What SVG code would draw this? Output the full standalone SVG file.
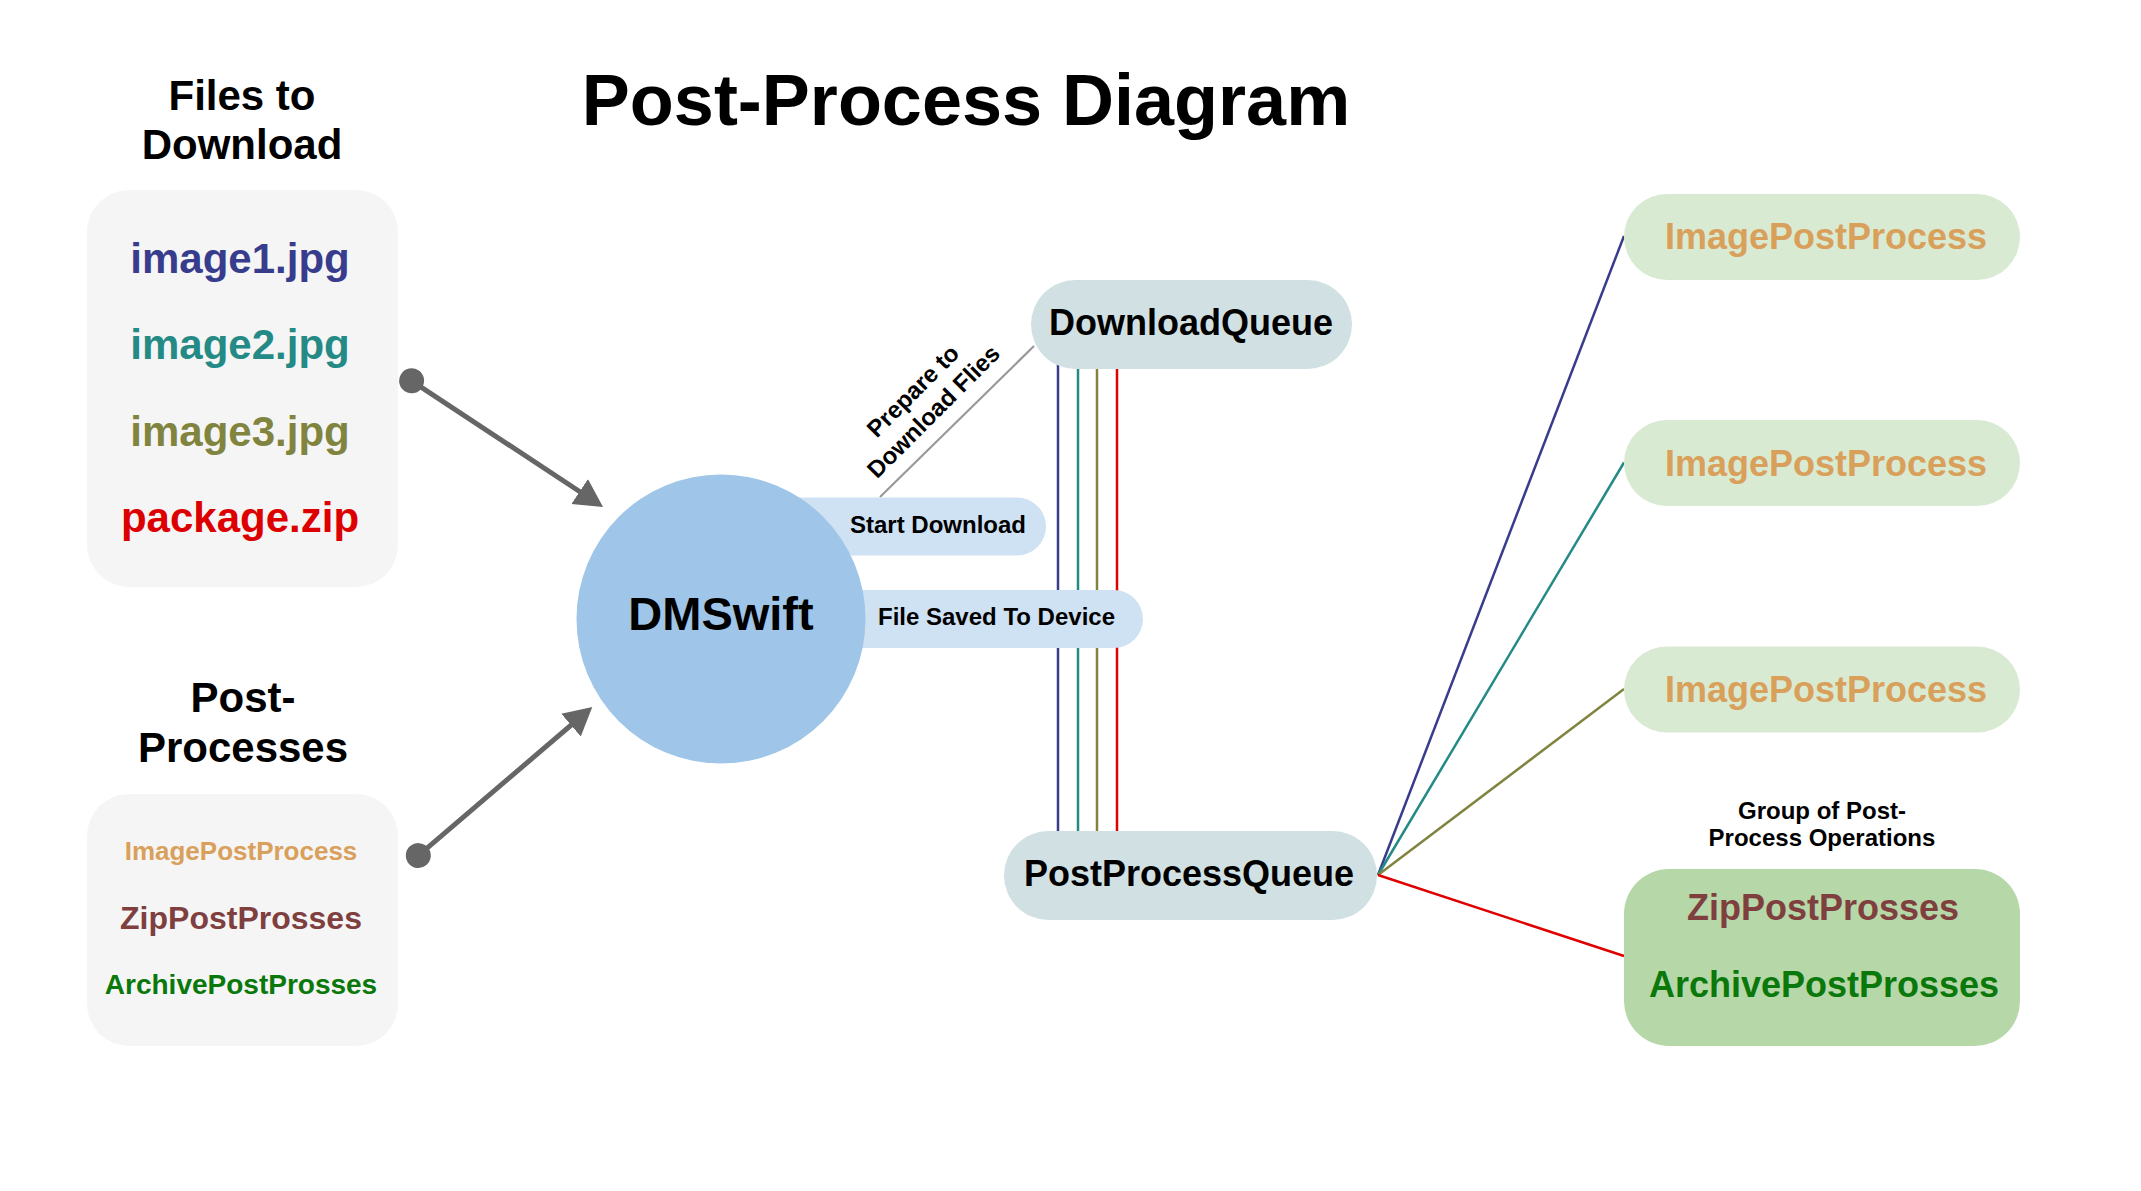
<svg xmlns="http://www.w3.org/2000/svg" width="2141" height="1191" viewBox="0 0 2141 1191">
<style>
text{font-family:"Liberation Sans",Arial,Helvetica,sans-serif;font-weight:bold;}
.c{text-anchor:middle;}
.box{fill:#f5f5f5;}
.queue{fill:#d0e0e3;}
.pill{fill:#cfe2f3;}
.ipp{fill:#d9ead3;}
.grp{fill:#b6d7a8;}
.blue{stroke:#383c8c;}
.teal{stroke:#248a85;}
.olive{stroke:#80843f;}
.red{stroke:#e00000;}
.vl{stroke-width:2.5;fill:none;}
.arrow{stroke:#666;stroke-width:5;fill:none;marker-start:url(#dot);marker-end:url(#head);}
</style>
<defs>
<marker id="head" markerUnits="userSpaceOnUse" markerWidth="30" markerHeight="32" refX="18" refY="15" orient="auto" viewBox="0 0 30 30">
<path d="M0,0 L28,15 L0,30 z" fill="#666"/>
</marker>
<marker id="dot" markerUnits="userSpaceOnUse" markerWidth="26" markerHeight="26" refX="13" refY="13" orient="auto" viewBox="0 0 26 26">
<circle cx="13" cy="13" r="12.5" fill="#666"/>
</marker>
</defs>
<rect width="2141" height="1191" fill="#ffffff"/>

<g id="title">
<text class="c" x="966" y="125" font-size="72" fill="#000">Post-Process Diagram</text>
</g>

<g id="connectors">
<line class="arrow" x1="411.6" y1="380.8" x2="594.7" y2="501.5"/>
<line class="arrow" x1="418.3" y1="855.6" x2="584.7" y2="713.5"/>
<line x1="880" y1="497" x2="1034" y2="346" stroke="#999" stroke-width="2.2"/>
<line class="vl blue" x1="1058" y1="330" x2="1058" y2="870"/>
<line class="vl teal" x1="1078" y1="330" x2="1078" y2="870"/>
<line class="vl olive" x1="1097" y1="330" x2="1097" y2="870"/>
<line class="vl red" x1="1117" y1="330" x2="1117" y2="870"/>
<line class="vl blue" x1="1378" y1="875" x2="1624" y2="236"/>
<line class="vl teal" x1="1378" y1="875" x2="1624" y2="462.5"/>
<line class="vl olive" x1="1378" y1="875" x2="1624" y2="689"/>
<line class="vl red" x1="1378" y1="875" x2="1624" y2="956" stroke-width="3"/>
<text transform="rotate(-45 923 401)" class="c" font-size="24" fill="#000"><tspan x="923" y="395">Prepare to</tspan><tspan x="923" y="424">Download Flies</tspan></text>
</g>

<g id="files-to-download">
<text class="c" x="242" y="110" font-size="42" fill="#000">Files to</text>
<text class="c" x="242" y="159" font-size="42" fill="#000">Download</text>
<rect class="box" x="87" y="190" width="311" height="397" rx="42"/>
<text class="c" x="240" y="273" font-size="42" fill="#383c8c">image1.jpg</text>
<text class="c" x="240" y="359" font-size="42" fill="#248a85">image2.jpg</text>
<text class="c" x="240" y="446" font-size="42" fill="#80843f">image3.jpg</text>
<text class="c" x="240" y="532" font-size="42" fill="#dc0000">package.zip</text>
</g>

<g id="post-processes">
<text class="c" x="243" y="712" font-size="42" fill="#000">Post-</text>
<text class="c" x="243" y="762" font-size="42" fill="#000">Processes</text>
<rect class="box" x="87" y="794" width="311" height="252" rx="42"/>
<text class="c" x="241" y="860" font-size="26" fill="#d9a05b">ImagePostProcess</text>
<text class="c" x="241" y="929" font-size="32" fill="#7f3f3f">ZipPostProsses</text>
<text class="c" x="241" y="994" font-size="28" fill="#0a780a">ArchivePostProsses</text>
</g>

<g id="start-download">
<rect class="pill" x="721" y="497.5" width="325" height="58" rx="29"/>
<text x="850" y="533" font-size="24" fill="#000">Start Download</text>
</g>

<g id="file-saved">
<rect class="pill" x="721" y="590" width="422" height="58" rx="29"/>
<text x="878" y="625" font-size="24" fill="#000">File Saved To Device</text>
</g>

<g id="dmswift">
<circle cx="721" cy="619" r="144.5" fill="#9fc5e8"/>
<text class="c" x="721" y="630" font-size="47" fill="#000">DMSwift</text>
</g>

<g id="download-queue">
<rect class="queue" x="1031" y="280" width="321" height="89" rx="44.5"/>
<text class="c" x="1191" y="335" font-size="36" fill="#000">DownloadQueue</text>
</g>

<g id="post-process-queue">
<rect class="queue" x="1004" y="831" width="373" height="89" rx="44.5"/>
<text class="c" x="1189" y="886" font-size="36" fill="#000">PostProcessQueue</text>
</g>

<g id="image-post-process-1">
<rect class="ipp" x="1624" y="194" width="396" height="86" rx="43"/>
<text class="c" x="1826" y="249" font-size="36" fill="#d9a05b">ImagePostProcess</text>
</g>

<g id="image-post-process-2">
<rect class="ipp" x="1624" y="420" width="396" height="86" rx="43"/>
<text class="c" x="1826" y="476" font-size="36" fill="#d9a05b">ImagePostProcess</text>
</g>

<g id="image-post-process-3">
<rect class="ipp" x="1624" y="646.5" width="396" height="86" rx="43"/>
<text class="c" x="1826" y="702" font-size="36" fill="#d9a05b">ImagePostProcess</text>
</g>

<g id="group-post-process">
<text class="c" x="1822" y="819" font-size="24" fill="#000">Group of Post-</text>
<text class="c" x="1822" y="846" font-size="24" fill="#000">Process Operations</text>
<rect class="grp" x="1624" y="869" width="396" height="177" rx="45"/>
<text class="c" x="1823" y="920" font-size="36" fill="#7f3f3f">ZipPostProsses</text>
<text class="c" x="1824" y="997" font-size="36" fill="#0a780a">ArchivePostProsses</text>
</g>
</svg>
